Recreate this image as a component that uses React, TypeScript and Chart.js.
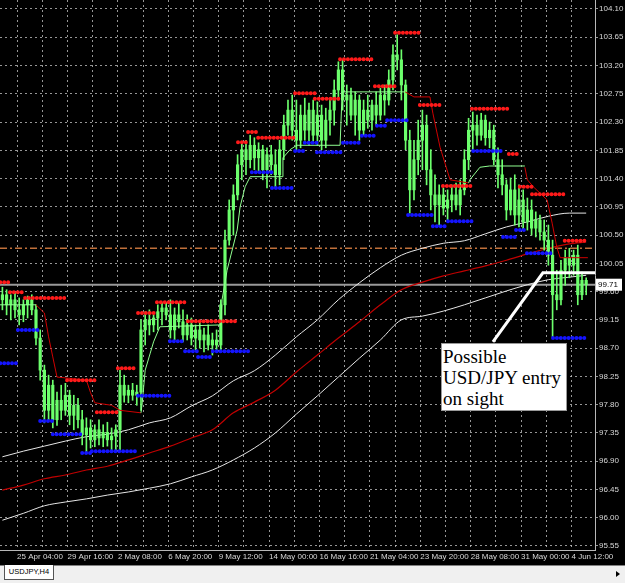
import React, { useEffect, useRef } from "react";
import { Chart, registerables } from "chart.js";

Chart.register(...registerables);

// ---- Candles (USDJPY H4), bar index 0..139 ----
const opens = [
  99.47, 99.55, 99.39, 99.47, 99.31, 99.23, 99.39, 99.47, 99.31, 98.86,
  98.35, 97.71, 98.11, 97.56, 97.87, 97.71, 97.95, 97.63, 97.79, 97.56,
  97.32, 97.43, 97.24, 97.40, 97.27, 97.36, 97.24, 97.30, 97.40, 98.11,
  97.95, 98.03, 97.95, 98.00, 98.99, 99.15, 99.07, 99.18, 99.28, 99.34,
  99.23, 98.99, 99.23, 99.12, 98.91, 99.07, 98.86, 98.99, 98.83, 98.91,
  98.75, 98.83, 98.75, 99.39, 100.42, 100.90, 101.14, 101.62, 101.86, 101.70,
  101.93, 101.73, 101.86, 101.54, 101.78, 101.62, 101.46, 101.86, 102.25, 102.49,
  102.17, 102.01, 102.41, 102.17, 102.49, 102.09, 102.41, 102.01, 102.33, 102.49,
  102.81, 103.13, 102.65, 102.73, 102.41, 102.65, 102.17, 102.49, 102.33, 102.57,
  102.41, 102.73, 102.65, 102.97, 103.37, 103.29, 102.89, 102.01, 101.22, 101.70,
  102.01, 102.25, 101.54, 101.14, 100.98, 101.14, 100.93, 101.06, 101.14, 100.98,
  101.22, 101.70, 102.17, 102.25, 102.09, 102.33, 102.05, 102.17, 101.70, 101.46,
  101.30, 100.90, 101.22, 100.82, 101.06, 100.71, 100.90, 100.61, 100.74, 100.55,
  100.42, 100.18, 99.55, 99.47, 99.94, 100.14, 100.02, 100.18, 99.55, 99.78,
];
const highs = [
  99.67, 99.63, 99.55, 99.58, 99.50, 99.47, 99.53, 99.55, 99.39, 98.99,
  98.43, 98.27, 98.19, 98.00, 98.11, 98.14, 98.03, 97.95, 97.90, 97.71,
  97.59, 97.56, 97.48, 97.56, 97.48, 97.52, 97.43, 97.48, 98.35, 98.27,
  98.11, 98.14, 98.11, 99.15, 99.28, 99.31, 99.23, 99.39, 99.42, 99.43,
  99.47, 99.34, 99.42, 99.31, 99.23, 99.18, 99.07, 99.12, 99.02, 99.07,
  98.94, 98.99, 99.47, 100.58, 101.06, 101.30, 101.78, 101.97, 102.01, 102.09,
  102.05, 101.97, 101.93, 101.89, 101.93, 101.86, 102.01, 102.41, 102.65, 102.73,
  102.65, 102.57, 102.68, 102.60, 102.65, 102.62, 102.57, 102.52, 102.65, 102.97,
  103.26, 103.29, 102.89, 102.84, 102.78, 102.73, 102.65, 102.73, 102.65, 102.78,
  102.84, 102.89, 103.13, 103.53, 103.69, 103.45, 102.97, 102.17, 102.01, 102.33,
  102.49, 102.41, 101.86, 101.46, 101.30, 101.25, 101.22, 101.30, 101.33, 101.38,
  101.86, 102.36, 102.46, 102.41, 102.44, 102.41, 102.30, 102.25, 101.89, 101.70,
  101.38, 101.41, 101.46, 101.30, 101.22, 101.09, 101.06, 100.87, 100.82, 100.74,
  100.66, 100.42, 99.94, 100.10, 100.26, 100.29, 100.26, 100.34, 99.91, 99.82,
];
const lows = [
  99.31, 99.23, 99.15, 99.18, 99.07, 99.12, 99.18, 99.23, 98.75, 98.19,
  97.51, 97.56, 97.43, 97.47, 97.56, 97.63, 97.48, 97.40, 97.43, 97.16,
  97.05, 97.11, 97.13, 97.16, 97.13, 97.14, 97.08, 97.08, 97.08, 97.84,
  97.83, 97.87, 97.79, 97.71, 98.75, 98.91, 98.96, 98.99, 99.07, 99.15,
  98.86, 98.83, 99.02, 98.80, 98.83, 98.75, 98.67, 98.70, 98.64, 98.67,
  98.59, 98.67, 98.64, 99.23, 100.34, 100.50, 101.06, 101.38, 101.46, 101.57,
  101.54, 101.50, 101.38, 101.25, 101.46, 101.25, 101.30, 101.70, 102.09, 102.01,
  101.86, 101.89, 102.01, 101.93, 101.97, 101.93, 101.86, 101.89, 102.09, 102.25,
  102.65, 102.49, 102.25, 102.33, 102.09, 102.01, 102.09, 102.20, 102.17, 102.25,
  102.33, 102.41, 102.57, 102.81, 103.13, 102.65, 101.86, 100.85, 101.06, 101.46,
  101.54, 101.30, 100.90, 100.71, 100.66, 100.82, 100.74, 100.87, 100.90, 100.82,
  101.14, 101.54, 101.86, 101.93, 102.01, 101.93, 101.89, 101.62, 101.25, 101.14,
  100.74, 100.82, 100.66, 100.63, 100.58, 100.58, 100.50, 100.47, 100.42, 100.26,
  100.02, 98.88, 99.31, 99.39, 99.70, 99.82, 99.86, 99.39, 99.47, 99.55,
];
const closes = [
  99.55, 99.39, 99.47, 99.31, 99.23, 99.39, 99.47, 99.31, 98.86, 98.35,
  97.71, 98.11, 97.56, 97.87, 97.71, 97.95, 97.63, 97.79, 97.56, 97.32,
  97.43, 97.24, 97.40, 97.27, 97.36, 97.24, 97.30, 97.40, 98.11, 97.95,
  98.03, 97.95, 98.00, 98.99, 99.15, 99.07, 99.18, 99.28, 99.34, 99.23,
  98.99, 99.23, 99.12, 98.91, 99.07, 98.86, 98.99, 98.83, 98.91, 98.75,
  98.83, 98.75, 99.39, 100.42, 100.90, 101.14, 101.62, 101.86, 101.70, 101.93,
  101.73, 101.86, 101.54, 101.78, 101.62, 101.46, 101.86, 102.25, 102.49, 102.17,
  102.01, 102.41, 102.17, 102.49, 102.09, 102.41, 102.01, 102.33, 102.49, 102.81,
  103.13, 102.65, 102.73, 102.41, 102.65, 102.17, 102.49, 102.33, 102.57, 102.41,
  102.73, 102.65, 102.97, 103.37, 103.29, 102.89, 102.01, 101.22, 101.70, 102.01,
  102.25, 101.54, 101.14, 100.98, 101.14, 100.93, 101.06, 101.14, 100.98, 101.22,
  101.70, 102.17, 102.25, 102.09, 102.33, 102.05, 102.17, 101.70, 101.46, 101.30,
  100.90, 101.22, 100.82, 101.06, 100.71, 100.90, 100.61, 100.74, 100.55, 100.42,
  100.18, 99.55, 99.47, 99.94, 100.14, 100.02, 100.18, 99.55, 99.78, 99.71,
];

// ---- Axis labels ----
const xTickIdx = [3.5, 15.5, 27.5, 39.5, 51.5, 63.5, 75.5, 87.5, 99.5, 111.5, 123.5, 135.5];
const xTickLabels = [
  "25 Apr 04:00", "29 Apr 16:00", "2 May 08:00", "6 May 20:00", "9 May 12:00",
  "14 May 00:00", "16 May 16:00", "21 May 04:00", "23 May 20:00", "28 May 08:00",
  "31 May 00:00", "4 Jun 12:00",
];
const yTicks = [
  104.1, 103.65, 103.2, 102.75, 102.3, 101.85, 101.4, 100.95, 100.5, 100.05,
  99.6, 99.15, 98.7, 98.25, 97.8, 97.35, 96.9, 96.45, 96.0, 95.55,
];

// ---- Moving average envelope (sampled every 5 bars) ----
const maIdx = [0, 5, 10, 15, 20, 25, 30, 35, 40, 45, 50, 55, 60, 65, 70, 75, 80, 85, 90, 95, 100, 105, 110, 115, 120, 125, 130, 135, 139];
const maUpper = [96.97, 97.06, 97.14, 97.22, 97.29, 97.33, 97.40, 97.51, 97.59, 97.78, 97.94, 98.18, 98.34, 98.59, 98.88, 99.15, 99.47, 99.74, 99.98, 100.18, 100.29, 100.37, 100.41, 100.52, 100.63, 100.71, 100.80, 100.85, 100.85];
const maMid = [96.44, 96.52, 96.62, 96.68, 96.76, 96.82, 96.92, 97.03, 97.14, 97.27, 97.40, 97.67, 97.84, 98.03, 98.32, 98.59, 98.86, 99.12, 99.39, 99.63, 99.75, 99.85, 99.93, 100.01, 100.10, 100.20, 100.29, 100.36, 100.39];
const maLower = [95.96, 96.07, 96.19, 96.25, 96.30, 96.36, 96.41, 96.47, 96.54, 96.65, 96.76, 96.92, 97.11, 97.35, 97.65, 97.94, 98.24, 98.54, 98.83, 99.15, 99.21, 99.29, 99.39, 99.50, 99.61, 99.71, 99.79, 99.83, 99.86];

// ---- Resistance / support dotted levels: [startBar, endBar, price] ----
const resistance: [number, number, number][] = [
  [-0.5, 1.8, 99.75], [1.8, 5.4, 99.59], [5.4, 15.4, 99.5], [15.4, 22.5, 98.19],
  [22.5, 27.5, 97.68], [27.5, 32.1, 98.38], [32.3, 36.8, 99.26], [36.8, 44.2, 99.43],
  [44.2, 56.1, 99.13], [56.1, 58.5, 101.98], [58.5, 60.9, 102.14], [60.9, 69.7, 102.05],
  [69.7, 74.4, 102.76], [74.4, 80.4, 102.67], [80.4, 88.7, 103.3], [88.7, 93.5, 102.87],
  [93.5, 99.4, 103.72], [99.4, 104.9, 102.57], [104.9, 111.8, 101.28], [111.8, 120.9, 102.51],
  [120.6, 123.2, 101.79], [123.2, 126.1, 101.27], [126.1, 133.9, 101.15], [133.9, 139.4, 100.41],
];
const support: [number, number, number][] = [
  [-0.5, 3.7, 98.46], [3.7, 9.0, 98.99], [9.0, 12.0, 97.54], [12.0, 19.0, 97.33],
  [19.0, 21.3, 97.03], [21.3, 32.3, 97.06], [32.3, 39.9, 97.94], [39.9, 43.5, 98.81],
  [43.5, 46.6, 98.65], [46.6, 50.1, 98.56], [50.1, 59.4, 98.65], [59.4, 64.2, 101.5],
  [64.2, 69.7, 101.25], [69.7, 72.0, 101.84], [72.0, 74.9, 101.97], [74.9, 81.1, 101.82],
  [81.1, 85.6, 101.97], [85.6, 89.2, 102.08], [89.2, 91.6, 102.24], [91.6, 96.6, 102.33],
  [96.6, 102.5, 100.82], [102.5, 106.1, 100.64], [106.1, 112.1, 100.72], [112.1, 119.2, 101.84],
  [119.2, 122.3, 100.47], [122.3, 124.9, 100.58], [124.9, 131.1, 100.21], [131.1, 139.4, 98.86],
];

// ---- Trailing stop line: [bar, price] vertices ----
const trailGreen: [number, number][][] = [
  [[-0.6, 99.39], [8, 99.39]],
  [[33, 97.67], [33.3, 97.83], [34, 98.35], [35.2, 98.62], [36, 98.8], [37.5, 99.04], [52, 99.07],
   [52.3, 99.47], [53.5, 99.94], [54.9, 100.31], [55.9, 100.58], [56.6, 100.95], [57.8, 101.27],
   [59, 101.43], [66.6, 101.43], [66.8, 101.73], [68.5, 101.86], [70.1, 101.93], [80.4, 101.93],
   [80.9, 102.78], [95.9, 102.78]],
  [[111, 101.33], [111.3, 101.38], [113.7, 101.58], [116, 101.6], [124.4, 101.6]],
];
const trailRed: [number, number][][] = [
  [[8, 99.39], [10, 99.26], [11, 98.88], [12, 98.56], [13, 98.24], [20, 98.19], [21, 97.99],
   [22, 97.83], [26, 97.79], [28, 97.71], [33, 97.67]],
  [[95.9, 102.78], [98, 102.7], [101.8, 102.7], [102.5, 102.44], [104.2, 101.9], [106.6, 101.38], [111, 101.33]],
  [[124.4, 101.58], [125, 101.38], [126.4, 101.27], [129.7, 101.06], [130.9, 100.69], [132, 100.31],
   [132.8, 100.14], [139.4, 100.14]],
];

const currentPrice = 99.71;
const dashLevel = 100.29;
const entryLine: [number, number][] = [[116.8, 98.8], [128.7, 99.9], [141.1, 99.9]];

const X_MIN = -0.57;
const X_MAX = 141.1;
const Y_MIN = 95.486;
const Y_MAX = 104.243;
const GRID_START = 3.5;
const GRID_STEP = 6;

const segPoints = (list: [number, number, number][]) => {
  const out: any[] = [];
  list.forEach(([s, e, p]) => {
    out.push({ x: s, y: p }, { x: e, y: p }, { x: e, y: null });
  });
  return out;
};
const pathPoints = (list: [number, number][][]) => {
  const out: any[] = [];
  list.forEach((path) => {
    path.forEach(([x, y]) => out.push({ x, y }));
    out.push({ x: path[path.length - 1][0], y: null });
  });
  return out;
};

const App: React.FC = () => {
  const ref = useRef<HTMLCanvasElement | null>(null);

  useEffect(() => {
    document.body.style.margin = "0";
    const canvas = ref.current;
    if (!canvas) return;

    const green = "#6cff6c";
    const priceTag = {
      id: "priceTag",
      afterDraw(chart: any) {
        const { ctx, chartArea } = chart;
        const y = chart.scales.y.getPixelForValue(currentPrice);
        ctx.save();
        ctx.fillStyle = "#ffffff";
        ctx.fillRect(chartArea.right + 1, y - 6, 26, 12);
        ctx.fillStyle = "#000000";
        ctx.font = '8px "Liberation Sans"';
        ctx.textBaseline = "middle";
        ctx.textAlign = "left";
        ctx.fillText(currentPrice.toFixed(2), chartArea.right + 3, y + 0.5);
        ctx.restore();
      },
    };

    const dotLine = (data: any[], color: string) =>
      ({
        type: "line",
        data,
        borderColor: color,
        borderWidth: 4,
        borderCapStyle: "round",
        borderDash: [0.01, 3.9],
        pointRadius: 0,
        spanGaps: false,
        order: 1,
      } as any);

    const chart = new Chart(canvas, {
      type: "line",
      data: {
        datasets: [
          {
            type: "line",
            data: entryLine.map(([x, y]) => ({ x, y })),
            borderColor: "#ffffff",
            borderWidth: 3,
            pointRadius: 0,
            order: 0,
          } as any,
          dotLine(segPoints(resistance), "#ff1a1a"),
          dotLine(segPoints(support), "#1414ff"),
          {
            type: "line",
            data: pathPoints(trailGreen),
            borderColor: "#90ff90",
            borderWidth: 1,
            pointRadius: 0,
            spanGaps: false,
            order: 2,
          } as any,
          {
            type: "line",
            data: pathPoints(trailRed),
            borderColor: "#d00000",
            borderWidth: 1,
            pointRadius: 0,
            spanGaps: false,
            order: 2,
          } as any,
          {
            type: "bar",
            data: opens.map((o, i) => ({ x: i, y: [o, closes[i]] })),
            backgroundColor: green,
            barThickness: 2.5,
            minBarLength: 1,
            grouped: false,
            order: 3,
          } as any,
          {
            type: "bar",
            data: lows.map((l, i) => ({ x: i, y: [l, highs[i]] })),
            backgroundColor: green,
            barThickness: 1,
            grouped: false,
            order: 4,
          } as any,
          {
            type: "line",
            data: maIdx.map((x, i) => ({ x, y: maUpper[i] })),
            borderColor: "#e6e6e6",
            borderWidth: 1,
            pointRadius: 0,
            cubicInterpolationMode: "monotone",
            order: 5,
          } as any,
          {
            type: "line",
            data: maIdx.map((x, i) => ({ x, y: maMid[i] })),
            borderColor: "#c00000",
            borderWidth: 1.2,
            pointRadius: 0,
            cubicInterpolationMode: "monotone",
            order: 5,
          } as any,
          {
            type: "line",
            data: maIdx.map((x, i) => ({ x, y: maLower[i] })),
            borderColor: "#e6e6e6",
            borderWidth: 1,
            pointRadius: 0,
            cubicInterpolationMode: "monotone",
            order: 5,
          } as any,
          {
            type: "line",
            data: [{ x: X_MIN, y: currentPrice }, { x: X_MAX, y: currentPrice }],
            borderColor: "#9a9a9a",
            borderWidth: 2,
            pointRadius: 0,
            order: 6,
          } as any,
          {
            type: "line",
            data: [{ x: X_MIN, y: dashLevel }, { x: X_MAX, y: dashLevel }],
            borderColor: "#c0703a",
            borderWidth: 1.5,
            borderDash: [7, 3, 2, 3],
            pointRadius: 0,
            order: 6,
          } as any,
        ],
      },
      options: {
        animation: false,
        responsive: false,
        events: [],
        layout: { padding: 0 },
        plugins: { legend: { display: false }, tooltip: { enabled: false } },
        scales: {
          x: {
            type: "linear",
            position: "bottom",
            min: X_MIN,
            max: X_MAX,
            offset: false,
            grid: { display: false, drawTicks: false, tickLength: 0 },
            border: { display: true, color: "#b8b8b8", width: 1 },
            afterBuildTicks: (s: any) => {
              s.ticks = xTickIdx.map((v) => ({ value: v }));
            },
            ticks: {
              autoSkip: false,
              maxRotation: 0,
              minRotation: 0,
              align: "start",
              padding: 2,
              color: "#d8d8d8",
              font: { family: "Liberation Sans", size: 8 },
              callback: (v: any) => {
                const k = xTickIdx.indexOf(Number(v));
                return k >= 0 ? xTickLabels[k] : "";
              },
            },
            afterFit: (s: any) => {
              s.height = 15;
              s.paddingLeft = 0;
              s.paddingRight = 0;
            },
          } as any,
          xg: {
            type: "linear",
            position: "top",
            min: X_MIN,
            max: X_MAX,
            offset: false,
            afterBuildTicks: (s: any) => {
              const t: any[] = [];
              for (let v = GRID_START; v < X_MAX; v += GRID_STEP) t.push({ value: v });
              s.ticks = t;
            },
            ticks: { display: false },
            grid: { color: "rgba(200,200,200,0.75)", lineWidth: 1, drawTicks: false },
            border: { display: false, dash: [2, 3] },
            afterFit: (s: any) => {
              s.height = 0;
              s.paddingLeft = 0;
              s.paddingRight = 0;
            },
          } as any,
          y: {
            type: "linear",
            position: "right",
            min: Y_MIN,
            max: Y_MAX,
            afterBuildTicks: (s: any) => {
              s.ticks = yTicks.map((v) => ({ value: v }));
            },
            ticks: {
              padding: 1,
              color: "#d8d8d8",
              font: { family: "Liberation Sans", size: 8 },
              callback: (v: any) => Number(v).toFixed(2),
            },
            grid: { color: "rgba(200,200,200,0.75)", lineWidth: 1, tickLength: 3 },
            border: { display: true, color: "#b8b8b8", width: 1, dash: [2, 3] },
            afterFit: (s: any) => {
              s.width = 30;
              s.paddingTop = 0;
              s.paddingBottom = 0;
            },
          } as any,
        },
      } as any,
      plugins: [priceTag],
    });

    return () => chart.destroy();
  }, []);

  return (
    <div style={{ position: "relative", width: 625, height: 583, background: "#000", overflow: "hidden" }}>
      <canvas ref={ref} width={625} height={565} style={{ display: "block", width: 625, height: 565 }} />
      <div
        style={{
          position: "absolute",
          left: 441,
          top: 343,
          width: 126,
          height: 68,
          background: "#ffffff",
          border: "1px solid #999",
          boxSizing: "border-box",
          fontFamily: '"Liberation Serif", serif',
          fontSize: 19,
          lineHeight: "21px",
          color: "#000",
          padding: "2px 0 0 1px",
          whiteSpace: "nowrap",
        }}
      >
        Possible
        <br />
        USD/JPY entry
        <br />
        on sight
      </div>
      <div
        style={{
          position: "absolute",
          left: 0,
          top: 565,
          width: 625,
          height: 18,
          background: "#f0f0f0",
          borderTop: "1px solid #808080",
          boxSizing: "border-box",
        }}
      >
        <div
          style={{
            position: "absolute",
            left: 4,
            top: -1,
            width: 50,
            height: 15,
            background: "#ffffff",
            border: "1px solid #555",
            borderTop: "none",
            boxSizing: "border-box",
            fontFamily: '"Liberation Sans", sans-serif',
            fontSize: 7.5,
            lineHeight: "14px",
            color: "#000",
            textAlign: "center",
          }}
        >
          USDJPY,H4
        </div>
        <div
          style={{
            position: "absolute",
            left: 616,
            top: 5,
            width: 0,
            height: 0,
            borderTop: "3px solid transparent",
            borderBottom: "3px solid transparent",
            borderLeft: "4px solid #000",
          }}
        />
      </div>
    </div>
  );
};

export default App;
